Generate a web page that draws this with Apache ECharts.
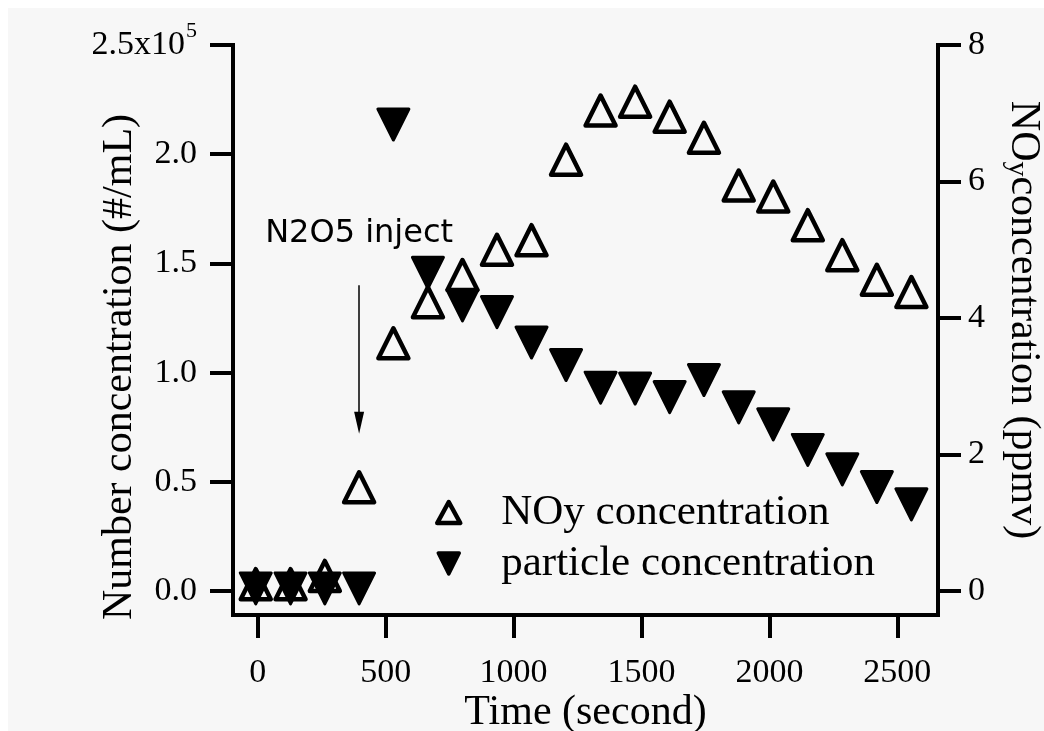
<!DOCTYPE html>
<html>
<head>
<meta charset="utf-8">
<script src="https://cdn.jsdelivr.net/npm/echarts@6/dist/echarts.min.js"></script>
<style>
  html, body { margin: 0; padding: 0; background: #ffffff; }
  #chart { width: 1044px; height: 731px; }
</style>
</head>
<body>
<div id="chart"></div>
<script>
// Sampling times (s)
const timeSec = [-8, 128, 262, 396, 530, 665, 800, 935, 1070, 1205, 1340, 1475, 1610, 1744, 1880, 2015, 2150, 2285, 2420, 2555];
// NOy concentration (ppmv), right axis
const noyPpmv = [0.10, 0.10, 0.22, 1.52, 3.63, 4.23, 4.63, 5.00, 5.14, 6.32, 7.04, 7.17, 6.95, 6.64, 5.94, 5.78, 5.36, 4.92, 4.56, 4.38];
// Particle number concentration (#/mL), left axis
const particleNum = [1200, 1200, 1200, 1200, 213600, 145700, 130800, 127700, 113800, 103500, 93100, 92700, 88800, 96600, 84100, 76300, 64600, 55700, 47600, 39700];

// Tick positions
const timeTicks = [0, 500, 1000, 1500, 2000, 2500];
const numTicks = [0, 50000, 100000, 150000, 200000, 250000];
const ppmvTicks = [0, 2, 4, 6, 8];

// Injection marker: time and arrow span on the left axis
const injectTime = 396;
const injectArrow = [140000, 77000];

const serif = 'Liberation Serif';
const noySeries = timeSec.map((t, i) => [t, noyPpmv[i]]);
const particleSeries = timeSec.map((t, i) => [t, particleNum[i]]);

const axisLineStyle = { color: '#000', width: 4, cap: 'square' };
const tickStyle = { color: '#000', width: 4 };

const chart = echarts.init(document.getElementById('chart'), null, { renderer: 'canvas' });
chart.setOption({
  animation: false,
  backgroundColor: '#ffffff',
  graphic: [{
    type: 'rect', z: -10, silent: true,
    shape: { x: 8, y: 8, width: 1036, height: 723 },
    style: { fill: '#f7f7f7' }
  }],
  grid: { left: 233, right: 106, top: 45, bottom: 116, containLabel: false, outerBoundsMode: 'none' },
  legend: {
    orient: 'vertical',
    left: 430, top: 486,
    itemWidth: 23, itemHeight: 21, itemGap: 8,
    selectedMode: false,
    textStyle: { fontFamily: serif, fontSize: 43, lineHeight: 43, color: '#000', padding: [0, 0, 0, 36] },
    data: [
      { name: 'NOy concentration', itemStyle: { color: 'rgba(0,0,0,0)', borderColor: '#000', borderWidth: 4.5, borderJoin: 'round', opacity: 1 } },
      { name: 'particle concentration', itemStyle: { color: '#000', borderColor: '#000', borderWidth: 3.5, borderJoin: 'round', opacity: 1 } }
    ]
  },
  xAxis: {
    type: 'value', min: -97, max: 2659,
    name: 'Time (second)', nameLocation: 'middle', nameGap: 77, nameMoveOverlap: false,
    nameTextStyle: { fontFamily: serif, fontSize: 42, color: '#000' },
    axisLine: { show: true, onZero: false, lineStyle: axisLineStyle },
    axisTick: { show: true, length: 23, customValues: timeTicks, lineStyle: tickStyle },
    axisLabel: { customValues: timeTicks, margin: 41, fontFamily: serif, fontSize: 34, color: '#000', formatter: v => String(v) },
    splitLine: { show: false }
  },
  yAxis: [{
    type: 'value', position: 'left', min: -10980, max: 250000,
    name: 'Number concentration (#/mL)', nameLocation: 'middle', nameGap: 92, nameRotate: 90, nameMoveOverlap: false,
    nameTextStyle: { fontFamily: serif, fontSize: 42, color: '#000', padding: [0, 74, 0, 0] },
    axisLine: { show: true, onZero: false, lineStyle: axisLineStyle },
    axisTick: { show: true, length: 23, customValues: numTicks, lineStyle: tickStyle },
    axisLabel: {
      customValues: numTicks, margin: 36, fontFamily: serif, fontSize: 34, color: '#000',
      formatter: v => v === 250000 ? '{m|2.5x10}{s|5}' : (v / 100000).toFixed(1),
      rich: {
        m: { fontFamily: serif, fontSize: 34, color: '#000', verticalAlign: 'middle' },
        s: { fontFamily: serif, fontSize: 22, color: '#000', verticalAlign: 'bottom', padding: [0, 0, 28, 1] }
      }
    },
    splitLine: { show: false }
  }, {
    type: 'value', position: 'right', min: -0.352, max: 8,
    name: 'NO{s|y}concentration (ppmv)', nameLocation: 'middle', nameGap: 64, nameRotate: -90, nameMoveOverlap: false,
    nameTextStyle: {
      fontFamily: serif, fontSize: 42, color: '#000', padding: [0, 20, 0, 0],
      rich: { s: { fontFamily: serif, fontSize: 30, color: '#000', verticalAlign: 'bottom' } }
    },
    axisLine: { show: true, onZero: false, lineStyle: axisLineStyle },
    axisTick: { show: true, length: 23, customValues: ppmvTicks, lineStyle: tickStyle },
    axisLabel: { customValues: ppmvTicks, margin: 30, fontFamily: serif, fontSize: 34, color: '#000', formatter: v => String(v) },
    splitLine: { show: false }
  }],
  series: [{
    name: 'NOy concentration',
    type: 'scatter',
    yAxisIndex: 1,
    z: 2,
    symbol: 'triangle',
    symbolSize: [30, 30],
    itemStyle: { color: 'rgba(0,0,0,0)', borderColor: '#000', borderWidth: 4.5, borderJoin: 'round', opacity: 1 },
    emphasis: { disabled: true },
    data: noySeries
  }, {
    name: 'particle concentration',
    type: 'scatter',
    yAxisIndex: 0,
    z: 3,
    symbol: 'path://M0,0L10,0L5,10Z',
    symbolSize: [31, 31],
    itemStyle: { color: '#000', borderColor: '#000', borderWidth: 3, borderJoin: 'round', opacity: 1 },
    emphasis: { disabled: true },
    data: particleSeries,
    markLine: {
      silent: true,
      animation: false,
      lineStyle: { color: '#000', width: 1.5, type: 'solid', opacity: 1 },
      label: {
        show: true, position: 'start', distance: 36,
        formatter: 'N2O5 inject',
        fontFamily: 'DejaVu Sans', fontSize: 32, color: '#000'
      },
      data: [[
        { coord: [injectTime, injectArrow[0]], symbol: 'none' },
        { coord: [injectTime, injectArrow[1]], symbol: 'triangle', symbolSize: [10, 22] }
      ]]
    }
  }]
});
</script>
</body>
</html>
